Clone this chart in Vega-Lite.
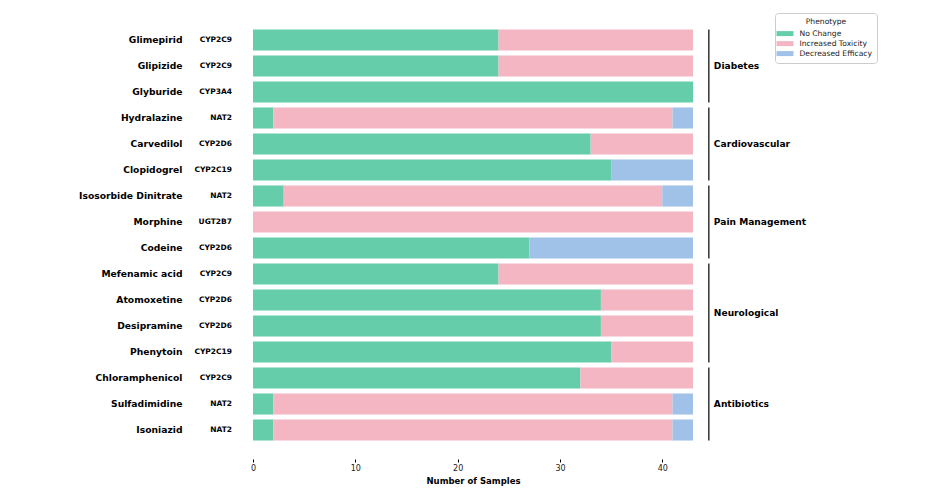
{
  "$schema": "https://vega.github.io/schema/vega-lite/v6.json",
  "width": 440,
  "height": 448,
  "autosize": "none",
  "padding": {"left": 253, "top": 11, "right": 243, "bottom": 34},
  "config": {
    "font": "DejaVu Sans",
    "view": {"stroke": null},
    "axis": {"grid": false}
  },
  "datasets": {
    "bars": [
      {"drug": "Glimepirid", "Phenotype": "No Change", "count": 24},
      {"drug": "Glimepirid", "Phenotype": "Increased Toxicity", "count": 19},
      {"drug": "Glipizide", "Phenotype": "No Change", "count": 24},
      {"drug": "Glipizide", "Phenotype": "Increased Toxicity", "count": 19},
      {"drug": "Glyburide", "Phenotype": "No Change", "count": 43},
      {"drug": "Hydralazine", "Phenotype": "No Change", "count": 2},
      {"drug": "Hydralazine", "Phenotype": "Increased Toxicity", "count": 39},
      {"drug": "Hydralazine", "Phenotype": "Decreased Efficacy", "count": 2},
      {"drug": "Carvedilol", "Phenotype": "No Change", "count": 33},
      {"drug": "Carvedilol", "Phenotype": "Increased Toxicity", "count": 10},
      {"drug": "Clopidogrel", "Phenotype": "No Change", "count": 35},
      {"drug": "Clopidogrel", "Phenotype": "Decreased Efficacy", "count": 8},
      {"drug": "Isosorbide Dinitrate", "Phenotype": "No Change", "count": 3},
      {"drug": "Isosorbide Dinitrate", "Phenotype": "Increased Toxicity", "count": 37},
      {"drug": "Isosorbide Dinitrate", "Phenotype": "Decreased Efficacy", "count": 3},
      {"drug": "Morphine", "Phenotype": "Increased Toxicity", "count": 43},
      {"drug": "Codeine", "Phenotype": "No Change", "count": 27},
      {"drug": "Codeine", "Phenotype": "Decreased Efficacy", "count": 16},
      {"drug": "Mefenamic acid", "Phenotype": "No Change", "count": 24},
      {"drug": "Mefenamic acid", "Phenotype": "Increased Toxicity", "count": 19},
      {"drug": "Atomoxetine", "Phenotype": "No Change", "count": 34},
      {"drug": "Atomoxetine", "Phenotype": "Increased Toxicity", "count": 9},
      {"drug": "Desipramine", "Phenotype": "No Change", "count": 34},
      {"drug": "Desipramine", "Phenotype": "Increased Toxicity", "count": 9},
      {"drug": "Phenytoin", "Phenotype": "No Change", "count": 35},
      {"drug": "Phenytoin", "Phenotype": "Increased Toxicity", "count": 8},
      {"drug": "Chloramphenicol", "Phenotype": "No Change", "count": 32},
      {"drug": "Chloramphenicol", "Phenotype": "Increased Toxicity", "count": 11},
      {"drug": "Sulfadimidine", "Phenotype": "No Change", "count": 2},
      {"drug": "Sulfadimidine", "Phenotype": "Increased Toxicity", "count": 39},
      {"drug": "Sulfadimidine", "Phenotype": "Decreased Efficacy", "count": 2},
      {"drug": "Isoniazid", "Phenotype": "No Change", "count": 2},
      {"drug": "Isoniazid", "Phenotype": "Increased Toxicity", "count": 39},
      {"drug": "Isoniazid", "Phenotype": "Decreased Efficacy", "count": 2}
    ],
    "genes": [
      {"drug": "Glimepirid", "gene": "CYP2C9"},
      {"drug": "Glipizide", "gene": "CYP2C9"},
      {"drug": "Glyburide", "gene": "CYP3A4"},
      {"drug": "Hydralazine", "gene": "NAT2"},
      {"drug": "Carvedilol", "gene": "CYP2D6"},
      {"drug": "Clopidogrel", "gene": "CYP2C19"},
      {"drug": "Isosorbide Dinitrate", "gene": "NAT2"},
      {"drug": "Morphine", "gene": "UGT2B7"},
      {"drug": "Codeine", "gene": "CYP2D6"},
      {"drug": "Mefenamic acid", "gene": "CYP2C9"},
      {"drug": "Atomoxetine", "gene": "CYP2D6"},
      {"drug": "Desipramine", "gene": "CYP2D6"},
      {"drug": "Phenytoin", "gene": "CYP2C19"},
      {"drug": "Chloramphenicol", "gene": "CYP2C9"},
      {"drug": "Sulfadimidine", "gene": "NAT2"},
      {"drug": "Isoniazid", "gene": "NAT2"}
    ],
    "groups": [
      {"group": "Diabetes", "first": "Glimepirid", "last": "Glyburide", "mid": "Glipizide"},
      {"group": "Cardiovascular", "first": "Hydralazine", "last": "Clopidogrel", "mid": "Carvedilol"},
      {"group": "Pain Management", "first": "Isosorbide Dinitrate", "last": "Codeine", "mid": "Morphine"},
      {"group": "Neurological", "first": "Mefenamic acid", "last": "Phenytoin", "mid": "Atomoxetine"},
      {"group": "Antibiotics", "first": "Chloramphenicol", "last": "Isoniazid", "mid": "Sulfadimidine"}
    ]
  },
  "layer": [
    {
      "data": {"name": "bars"},
      "mark": {"type": "bar"},
      "encoding": {
        "y": {
          "field": "drug", "type": "nominal",
          "scale": {"domain": ["Glimepirid","Glipizide","Glyburide","Hydralazine","Carvedilol","Clopidogrel","Isosorbide Dinitrate","Morphine","Codeine","Mefenamic acid","Atomoxetine","Desipramine","Phenytoin","Chloramphenicol","Sulfadimidine","Isoniazid"], "paddingInner": 0.19, "paddingOuter": 0.71},
          "axis": {"title": null, "ticks": false, "domain": false, "labelPadding": 71, "labelFontSize": 9.2, "labelFontWeight": "bold", "labelColor": "#000", "labelLimit": 300}
        },
        "x": {
          "field": "count", "type": "quantitative", "stack": "zero",
          "scale": {"domain": [0, 43], "nice": false, "zero": true},
          "axis": {"title": "Number of Samples", "values": [0, 10, 20, 30, 40], "labelFlush": false, "domain": false, "tickSize": 3, "tickColor": "#000", "labelFontSize": 8, "labelColor": "#222", "labelPadding": 2, "titleFontSize": 8.5, "titleFontWeight": "bold", "titleColor": "#000", "titlePadding": 4}
        },
        "order": {"field": "Phenotype", "sort": "descending"},
        "color": {
          "field": "Phenotype", "type": "nominal",
          "scale": {"domain": ["No Change", "Increased Toxicity", "Decreased Efficacy"], "range": ["#66CDAA", "#F4B6C2", "#A0C1E8"]},
          "legend": {
            "orient": "none", "legendX": 522, "legendY": 2,
            "title": "Phenotype", "titleAnchor": "middle", "titleFontSize": 7.6, "titleFontWeight": "normal", "titleColor": "#222", "titlePadding": 3,
            "labelFontSize": 7.6, "labelColor": "#222", "labelOffset": 9.5,
            "symbolType": "M-1.7,-0.5H1.7V0.5H-1.7Z", "symbolSize": 100, "symbolStrokeWidth": 0, "symbolOpacity": 1,
            "rowPadding": 1, "padding": 5, "strokeColor": "#cccccc", "fillColor": "#ffffff", "cornerRadius": 3
          }
        }
      }
    },
    {
      "data": {"name": "genes"},
      "mark": {"type": "text", "align": "right", "baseline": "middle", "dx": -21, "fontSize": 7.5, "fontWeight": "bold", "color": "#000"},
      "encoding": {
        "y": {"field": "drug", "type": "nominal"},
        "x": {"datum": 0},
        "text": {"field": "gene"}
      }
    },
    {
      "data": {"name": "groups"},
      "mark": {"type": "rule", "color": "#000", "strokeWidth": 1.2},
      "encoding": {
        "y": {"field": "first", "type": "nominal", "bandPosition": 0},
        "y2": {"field": "last", "bandPosition": 1},
        "x": {"datum": 44.55}
      }
    },
    {
      "data": {"name": "groups"},
      "transform": [{"filter": "datum.group !== 'Neurological'"}],
      "mark": {"type": "text", "align": "left", "baseline": "middle", "dx": 5, "fontSize": 9.1, "fontWeight": "bold", "color": "#000"},
      "encoding": {
        "y": {"field": "mid", "type": "nominal"},
        "x": {"datum": 44.55},
        "text": {"field": "group"}
      }
    },
    {
      "data": {"name": "groups"},
      "transform": [{"filter": "datum.group === 'Neurological'"}],
      "mark": {"type": "text", "align": "left", "baseline": "middle", "dx": 5, "dy": 13, "fontSize": 9.1, "fontWeight": "bold", "color": "#000"},
      "encoding": {
        "y": {"field": "mid", "type": "nominal"},
        "x": {"datum": 44.55},
        "text": {"field": "group"}
      }
    }
  ]
}
